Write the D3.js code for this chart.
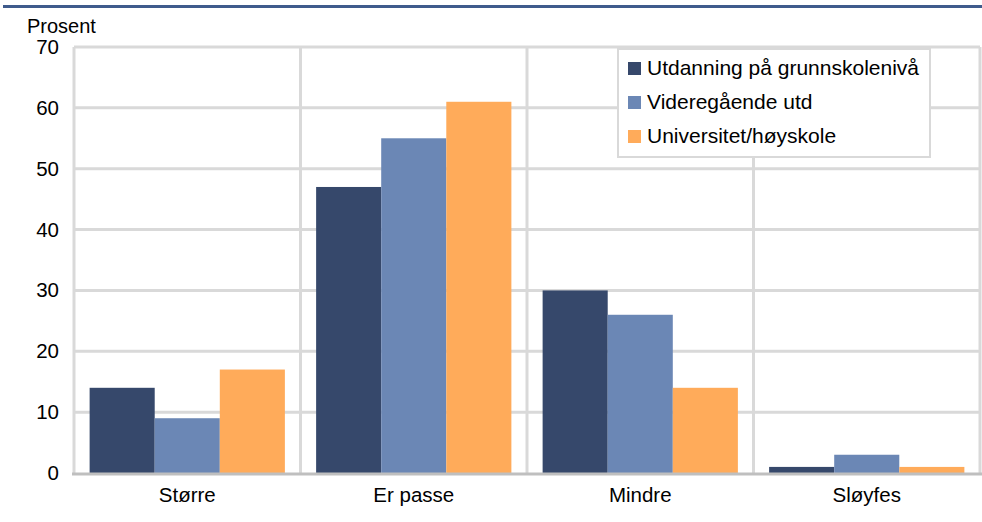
<!DOCTYPE html>
<html><head><meta charset="utf-8">
<script src="https://cdn.jsdelivr.net/npm/d3@7/dist/d3.min.js"></script>
<style>body{margin:0;background:#fff}svg{display:block;font-family:"Liberation Sans",Arial,sans-serif}</style>
</head><body><svg id="c" width="982" height="522"></svg>
<script>
const categories = ["Større", "Er passe", "Mindre", "Sløyfes"];
const seriesNames = ["Utdanning på grunnskolenivå", "Videregående utd", "Universitet/høyskole"];
const grunnskole = [14, 47, 30, 1];
const videregaende = [9, 55, 26, 3];
const universitet = [17, 61, 14, 1];
const yTicks = [0, 10, 20, 30, 40, 50, 60, 70];
const colors = ["#36486b", "#6b87b5", "#ffab5a"];

const series = [grunnskole, videregaende, universitet];
const svg = d3.select("#c");
const L = 74, W = 906, T = 47, B = 473;
const FS = 20.5;

svg.append("rect").attr("x", 3).attr("y", 5).attr("width", 979).attr("height", 3).attr("fill", "#3f5b8c");

const x = d3.scaleBand().domain(categories).range([L, L + W]).paddingInner(0).paddingOuter(0);
const xs = d3.scaleBand().domain(d3.range(3)).range([0, x.bandwidth()]).paddingInner(0).paddingOuter(0.24);
const y = d3.scaleLinear().domain([0, 70]).range([B, T]);

const g = svg.append("g");
g.selectAll("line.h").data(yTicks.filter(d => d > 0)).join("line")
  .attr("x1", L).attr("x2", L + W).attr("y1", d => y(d)).attr("y2", d => y(d))
  .attr("stroke", "#d9d9d9").attr("stroke-width", 3);
g.selectAll("line.v").data(categories).join("line")
  .attr("x1", d => x(d) + x.bandwidth()).attr("x2", d => x(d) + x.bandwidth())
  .attr("y1", T).attr("y2", B).attr("stroke", "#d9d9d9").attr("stroke-width", 3);
g.append("line").attr("x1", L).attr("x2", L).attr("y1", T).attr("y2", B).attr("stroke", "#d9d9d9").attr("stroke-width", 3);

series.forEach((vals, si) => {
  svg.append("g").selectAll("rect").data(vals).join("rect")
    .attr("x", (d, i) => x(categories[i]) + xs(si))
    .attr("width", xs.bandwidth())
    .attr("y", d => y(d))
    .attr("height", d => y(0) - y(d))
    .attr("fill", colors[si]);
});

svg.append("line").attr("x1", L - 2).attr("x2", L + W + 2).attr("y1", B + 1).attr("y2", B + 1)
  .attr("stroke", "#bfbfbf").attr("stroke-width", 3);

const yAxis = d3.axisLeft(y).tickValues(yTicks).tickSize(0).tickPadding(15);
const ya = svg.append("g").attr("transform", `translate(${L},0)`).call(yAxis);
ya.select(".domain").remove();
ya.selectAll("text").attr("font-size", FS).attr("fill", "#000").attr("font-family", "Liberation Sans, Arial, sans-serif");

const xAxis = d3.axisBottom(x).tickSize(0).tickPadding(14);
const xa = svg.append("g").attr("transform", `translate(0,${B})`).call(xAxis);
xa.select(".domain").remove();
xa.selectAll("text").attr("font-size", FS).attr("fill", "#000").attr("font-family", "Liberation Sans, Arial, sans-serif");

svg.append("text").attr("x", 27).attr("y", 33).attr("font-size", 20).text("Prosent");

const lg = svg.append("g");
lg.append("rect").attr("x", 618).attr("y", 49).attr("width", 312).attr("height", 108)
  .attr("fill", "#fff").attr("stroke", "#d9d9d9").attr("stroke-width", 2);
seriesNames.forEach((n, i) => {
  const cy = 68 + i * 34;
  lg.append("rect").attr("x", 628).attr("y", cy - 6).attr("width", 13).attr("height", 13).attr("fill", colors[i]);
  lg.append("text").attr("x", 647).attr("y", cy + 7).attr("font-size", 21).text(n);
});
</script></body></html>
